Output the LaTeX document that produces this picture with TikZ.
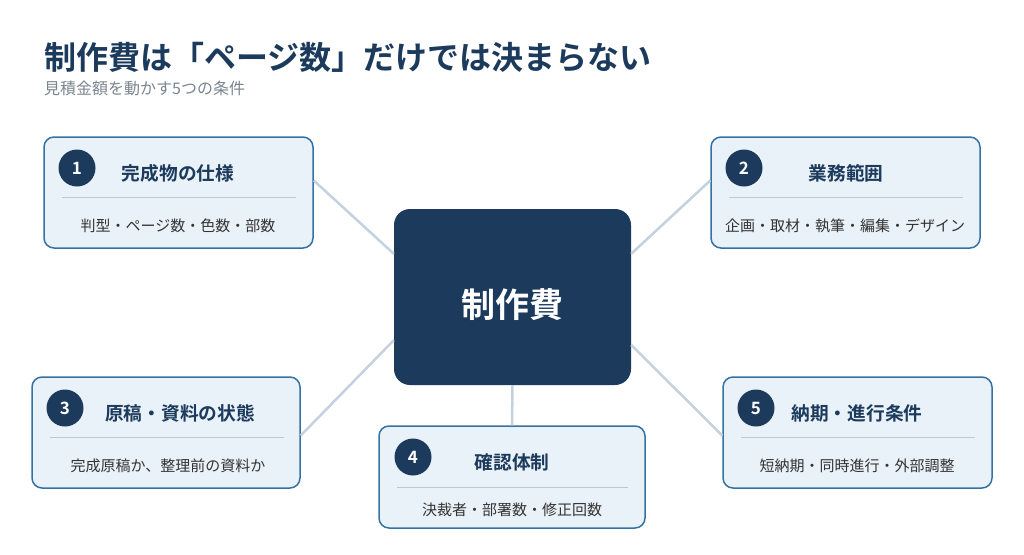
\documentclass[tikz,border=0pt]{standalone}
\usepackage{fontspec}
\setmainfont{Noto Sans CJK JP}[BoldFont={Noto Sans CJK JP Bold}]
\definecolor{navy}{HTML}{1B3A5C}
\definecolor{boxfill}{HTML}{EAF2F9}
\definecolor{boxline}{HTML}{3572A3}
\definecolor{link}{HTML}{C3D2DE}
\definecolor{rule}{HTML}{B8C8D6}
\definecolor{subgray}{HTML}{7A8590}
\begin{document}
\begin{tikzpicture}[x=1pt,y=-1pt,
                    box/.style={rounded corners=10pt,draw=boxline,fill=boxfill,line width=1.5pt},
                    num/.style={circle,fill=navy,text=white,minimum size=37pt,inner sep=0pt,font=\fontsize{17}{17}\selectfont\bfseries},
                    head/.style={text=navy,font=\fontsize{18.7}{19}\selectfont\bfseries},
                    sub/.style={text=black!80,font=\fontsize{15}{15}\selectfont},
                    link/.style={draw=link,line width=2.5pt}]
  \useasboundingbox (0,0) rectangle (1024,554);
  \node[anchor=west,inner sep=0pt,text=navy,font=\fontsize{32}{32}\selectfont\bfseries] (title) at (44,57) {制作費は「ページ数」だけでは決まらない};
  \node[anchor=west,inner sep=0pt,text=subgray,font=\fontsize{16}{16}\selectfont] (subtitle) at (44,88) {見積金額を動かす5つの条件};
  % boxes
  \node[box,minimum width=269pt,minimum height=111pt] (b1) at (178.5,192.5) {};
  \node[box,minimum width=269pt,minimum height=111pt] (b2) at (845.5,192.5) {};
  \node[box,minimum width=268pt,minimum height=111pt] (b3) at (166,432.5) {};
  \node[box,minimum width=266pt,minimum height=102pt] (b4) at (512,477) {};
  \node[box,minimum width=269pt,minimum height=111pt] (b5) at (857.5,432.5) {};
  \node[rounded corners=16pt,fill=navy,minimum width=237pt,minimum height=176pt] (ctr) at (512.5,297) {};
  \node[text=white,font=\fontsize{34}{34}\selectfont\bfseries] (ctrtext) at (512,305) {制作費};
  % links
  \draw[link] ([yshift=12pt]b1.east) -- (ctr.160);
  \draw[link] ([yshift=12pt]b2.west) -- (ctr.20);
  \draw[link] ([yshift=-3pt]b3.east) -- (ctr.-160);
  \draw[link] (b4.north) -- (ctr.south);
  \draw[link] ([yshift=-3pt]b5.west) -- (ctr.-22);
  % contents
  \node[num] (n1) at (77,168) {1};
  \node[head] (h1) at (178,173) {完成物の仕様};
  \draw[rule] (62,197) -- (296,197);
  \node[sub] (s1) at (178,226) {判型・ページ数・色数・部数};
  \node[num] (n2) at (744,168) {2};
  \node[head] (h2) at (846,173) {業務範囲};
  \draw[rule] (729,197) -- (963,197);
  \node[sub] (s2) at (845,226) {企画・取材・執筆・編集・デザイン};
  \node[num] (n3) at (65,408) {3};
  \node[head] (h3) at (180,413) {原稿・資料の状態};
  \draw[rule] (50,437) -- (284,437);
  \node[sub] (s3) at (168,466) {完成原稿か、整理前の資料か};
  \node[num] (n4) at (413,457) {4};
  \node[head] (h4) at (512,462) {確認体制};
  \draw[rule] (397,487) -- (628,487);
  \node[sub] (s4) at (512,510) {決裁者・部署数・修正回数};
  \node[num] (n5) at (756,408) {5};
  \node[head] (h5) at (857,413) {納期・進行条件};
  \draw[rule] (741,437) -- (975,437);
  \node[sub] (s5) at (857,466) {短納期・同時進行・外部調整};
\end{tikzpicture}
\end{document}
